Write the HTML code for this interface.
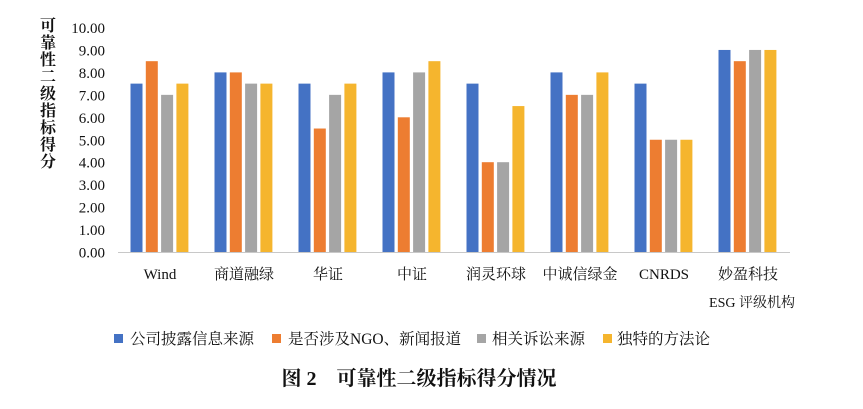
<!DOCTYPE html>
<html><head><meta charset="utf-8"><style>
body{margin:0;background:#fff;}
svg text{font-family:"Liberation Serif","Noto Serif CJK SC",serif;fill:#111;}
</style></head><body>
<svg width="863" height="404" xmlns="http://www.w3.org/2000/svg">
<g font-size="16" text-anchor="middle" font-weight="bold">
<text x="48" y="31">可</text><text x="48" y="48">靠</text><text x="48" y="65">性</text><text x="48" y="82">二</text><text x="48" y="99">级</text><text x="48" y="116">指</text><text x="48" y="133">标</text><text x="48" y="150">得</text><text x="48" y="167">分</text>
</g>
<g font-size="15" text-anchor="end" id="yl"></g>
<line x1="118" y1="252.5" x2="790" y2="252.5" stroke="#c8c8c8" stroke-width="1"/>
<g id="bars"></g>
<g font-size="15" text-anchor="middle" id="cl"></g>
<text x="795" y="307" font-size="14" text-anchor="end">ESG 评级机构</text>
<g font-size="15.5">
<rect x="114" y="334" width="9" height="9" fill="#4472C4"/><text x="130" y="344">公司披露信息来源</text>
<rect x="272" y="334" width="9" height="9" fill="#ED7D31"/><text x="288" y="344">是否涉及NGO、新闻报道</text>
<rect x="477" y="334" width="9" height="9" fill="#A5A5A5"/><text x="492" y="344">相关诉讼来源</text>
<rect x="603" y="334" width="9" height="9" fill="#F5B52E"/><text x="617" y="344">独特的方法论</text>
</g>
<text x="419" y="385" font-size="20" font-weight="bold" text-anchor="middle" xml:space="preserve">图 2    可靠性二级指标得分情况</text>
</svg>
<script>
var ns="http://www.w3.org/2000/svg",yl=document.getElementById('yl'),b=document.getElementById('bars'),cl=document.getElementById('cl');
function el(t,a,p,tx){var e=document.createElementNS(ns,t);for(var k in a)e.setAttribute(k,a[k]);if(tx)e.textContent=tx;p.appendChild(e);}
for(var i=0;i<=10;i++)el('text',{x:105,y:252.5-i*22.45+5},yl,i.toFixed(2));
var cats=["Wind","商道融绿","华证","中证","润灵环球","中诚信绿金","CNRDS","妙盈科技"];
var d=[[7.5,8.5,7,7.5],[8,8,7.5,7.5],[7.5,5.5,7,7.5],[8,6,8,8.5],[7.5,4,4,6.5],[8,7,7,8],[7.5,5,5,5],[9,8.5,9,9]];
var c=["#4472C4","#ED7D31","#A5A5A5","#F5B52E"];
for(var g=0;g<8;g++){var cx=118+84*(g+0.5);
el('text',{x:cx,y:279},cl,cats[g]);
for(var s=0;s<4;s++){var h=d[g][s]*22.45;el('rect',{x:cx-29.5+s*15.3,y:252-h,width:12,height:h,fill:c[s]},b);}}
</script>
</body></html>
